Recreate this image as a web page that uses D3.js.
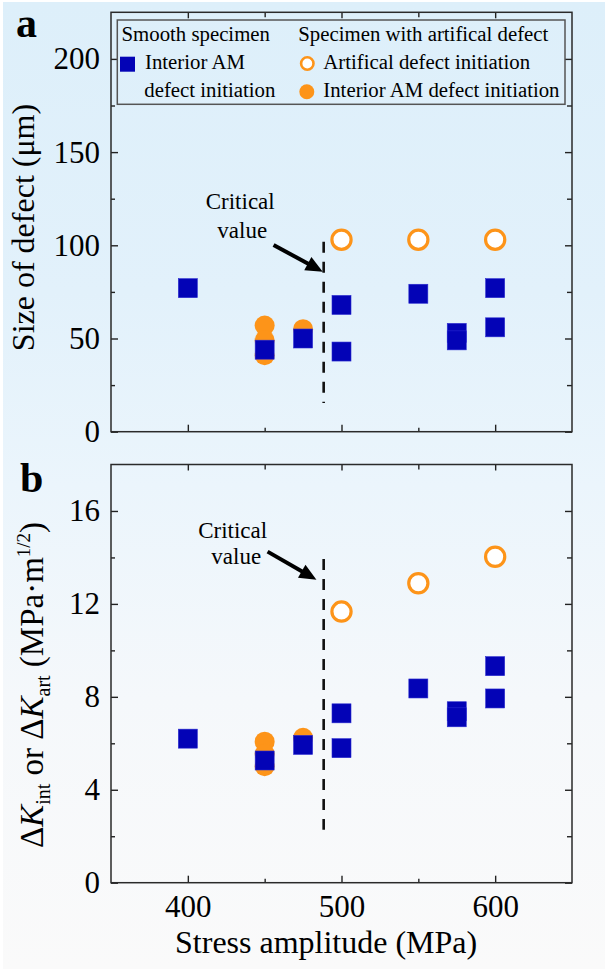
<!DOCTYPE html>
<html>
<head>
<meta charset="utf-8">
<script src="https://cdn.jsdelivr.net/npm/d3@7/dist/d3.min.js"></script>
<style>
  html, body { margin: 0; padding: 0; background: #ffffff; }
  svg { display: block; }
</style>
</head>
<body>
<svg id="chart" width="605" height="969"></svg>
<script>
// ---------------- DATA ----------------
const stressSmooth = [400, 450, 475, 500, 500, 550, 575, 575, 600, 600];
const sizeSmooth   = [77, 44, 50, 68, 43, 74, 53, 49, 77, 56];
const dKSmooth     = [6.2, 5.26, 5.93, 7.29, 5.79, 8.36, 7.38, 7.12, 9.32, 7.93];

const stressArt = [500, 550, 600];
const sizeArt   = [103, 103, 103];
const dKArt     = [11.67, 12.89, 14.03];

const stressAMint = [450, 450, 450, 475];
const sizeAMint   = [57, 49, 41, 55];
const dKAMint     = [6.07, 5.55, 5.01, 6.24];

const xMajor = [400, 500, 600];
const xMinor = [450, 550];
const ySizeMajor = [0, 50, 100, 150, 200];
const ySizeMinor = [25, 75, 125, 175];
const yKMajor = [0, 4, 8, 12, 16];
const yKMinor = [2, 6, 10, 14];

const criticalStress = 488.4;
const critSizeRange = [15.4, 101.9];
const critKRange = [2.28, 13.93];
// annotation anchors in data units: [tailX, tailY, tipX, tipY]
const arrowSize = [455.8, 100.2, 487.8, 85.8];
const arrowK    = [451.9, 14.25, 483.7, 13.04];
const labelSize = [[434.1, 119.5, "Critical"], [435.4, 103.7, "value"]];
const labelK    = [[429.2, 14.84, "Critical"], [431.5, 13.72, "value"]];

const legendLeftTitle = "Smooth specimen";
const legendRightTitle = "Specimen with artifical defect";

// ---------------- SETUP ----------------
const FONT = "Liberation Serif";
const svg = d3.select("#chart");
const W = 605, H = 969;
const BLUE = "#0303b6", ORANGE = "#fd9419";

const defs = svg.append("defs");
const grad = defs.append("linearGradient").attr("id", "bg")
  .attr("x1", 0).attr("y1", 0).attr("x2", 0).attr("y2", 1);
[["0%", "#ddeffa"], ["30%", "#e2f1fb"], ["50%", "#ebf5fc"], ["72%", "#f5f8fb"], ["100%", "#fafafa"]]
  .forEach(([o, c]) => grad.append("stop").attr("offset", o).attr("stop-color", c));
svg.append("rect").attr("x", 3).attr("y", 2).attr("width", W - 3).attr("height", H - 2)
  .attr("fill", "url(#bg)");

const x = d3.scaleLinear().domain([350, 650]).range([111, 572]);
const ySize = d3.scaleLinear().domain([0, 225]).range([431.7, 12.3]);
const yK = d3.scaleLinear().domain([0, 18]).range([882.7, 464.5]);

function panel(y, yMajor, yMinor, showXLabels) {
  const g = svg.append("g");
  const [x0, x1] = x.range();
  const [yb, yt] = y.range();
  const axes = [
    [d3.axisBottom(x).tickValues(xMajor).tickSize(-7), `translate(0,${yb})`, showXLabels, 12],
    [d3.axisBottom(x).tickValues(xMinor).tickSize(-4), `translate(0,${yb})`, false, 0],
    [d3.axisTop(x).tickValues(xMajor).tickSize(-6), `translate(0,${yt})`, false, 0],
    [d3.axisTop(x).tickValues(xMinor).tickSize(-5), `translate(0,${yt})`, false, 0],
    [d3.axisLeft(y).tickValues(yMajor).tickSize(-7), `translate(${x0},0)`, true, 11],
    [d3.axisLeft(y).tickValues(yMinor).tickSize(-4), `translate(${x0},0)`, false, 0],
    [d3.axisRight(y).tickValues(yMajor).tickSize(-7), `translate(${x1},0)`, false, 0],
    [d3.axisRight(y).tickValues(yMinor).tickSize(-5), `translate(${x1},0)`, false, 0],
  ];
  axes.forEach(([ax, tr, labels, pad]) => {
    ax.tickPadding(pad);
    if (!labels) ax.tickFormat("");
    const a = g.append("g").attr("transform", tr).call(ax);
    a.select(".domain").remove();
    a.selectAll(".tick line").attr("stroke", "#222").attr("stroke-width", 1.4);
    a.selectAll(".tick text").attr("font-size", 31).attr("fill", "#000");
  });
  g.append("rect").attr("x", x0).attr("y", yt).attr("width", x1 - x0).attr("height", yb - yt)
    .attr("fill", "none").attr("stroke", "#2a2a2a").attr("stroke-width", 1.5);
  return g;
}

function points(g, y, artY, amY, smY) {
  g.selectAll(".am").data(stressAMint.map((s, i) => [s, amY[i]])).join("circle")
    .attr("cx", d => x(d[0])).attr("cy", d => y(d[1])).attr("r", 10).attr("fill", ORANGE);
  g.selectAll(".art").data(stressArt.map((s, i) => [s, artY[i]])).join("circle")
    .attr("cx", d => x(d[0])).attr("cy", d => y(d[1])).attr("r", 9.6)
    .attr("fill", "#ffffff").attr("stroke", ORANGE).attr("stroke-width", 3.2);
  const s = 19;
  g.selectAll(".sm").data(stressSmooth.map((v, i) => [v, smY[i]])).join("rect")
    .attr("x", d => x(d[0]) - s / 2).attr("y", d => y(d[1]) - s / 2)
    .attr("width", s).attr("height", s).attr("fill", BLUE)
    .attr("stroke", "#2a2ad0").attr("stroke-width", 0.6);
}

function critical(g, y, range, arrow, labels) {
  g.append("line").attr("x1", x(criticalStress)).attr("x2", x(criticalStress))
    .attr("y1", y(range[1])).attr("y2", y(range[0]))
    .attr("stroke", "#111").attr("stroke-width", 2.6).attr("stroke-dasharray", "11,9");
  const tx = x(arrow[0]), ty = y(arrow[1]), hx = x(arrow[2]), hy = y(arrow[3]);
  const ang = Math.atan2(hy - ty, hx - tx);
  const L = 17, Wd = 7.5;
  const bx = hx - L * Math.cos(ang), by = hy - L * Math.sin(ang);
  g.append("line").attr("x1", tx).attr("y1", ty).attr("x2", bx + 2 * Math.cos(ang)).attr("y2", by + 2 * Math.sin(ang))
    .attr("stroke", "#000").attr("stroke-width", 4);
  const p = [[hx, hy],
    [bx + Wd * Math.sin(ang), by - Wd * Math.cos(ang)],
    [bx - Wd * Math.sin(ang), by + Wd * Math.cos(ang)]];
  g.append("polygon").attr("points", p.map(q => q.join(",")).join(" ")).attr("fill", "#000");
  labels.forEach(([lx, ly, t]) => {
    g.append("text").attr("x", x(lx)).attr("y", y(ly)).attr("text-anchor", "middle")
      .attr("font-size", 23).text(t);
  });
}

// ---------------- PANEL A ----------------
const gA = panel(ySize, ySizeMajor, ySizeMinor, false);
critical(gA, ySize, critSizeRange, arrowSize, labelSize);
points(gA, ySize, sizeArt, sizeAMint, sizeSmooth);

// ---------------- PANEL B ----------------
const gB = panel(yK, yKMajor, yKMinor, true);
critical(gB, yK, critKRange, arrowK, labelK);
points(gB, yK, dKArt, dKAMint, dKSmooth);

// ---------------- LEGEND ----------------
const lg = svg.append("g");
lg.append("rect").attr("x", 117.3).attr("y", 20).attr("width", 447.7).attr("height", 84.3)
  .attr("fill", "none").attr("stroke", "#555").attr("stroke-width", 1.5);
const LF = 20.8;
lg.append("text").attr("x", 121.5).attr("y", 40.5).attr("font-size", LF).text(legendLeftTitle);
lg.append("text").attr("x", 298.3).attr("y", 40.5).attr("font-size", LF).text(legendRightTitle);
lg.append("rect").attr("x", 120).attr("y", 56.7).attr("width", 15).attr("height", 15).attr("fill", BLUE);
lg.append("text").attr("x", 145).attr("y", 69.3).attr("font-size", LF).text("Interior AM");
lg.append("text").attr("x", 144.3).attr("y", 97.3).attr("font-size", LF).text("defect initiation");
lg.append("circle").attr("cx", 307.3).attr("cy", 63.5).attr("r", 6.2)
  .attr("fill", "#fff").attr("stroke", ORANGE).attr("stroke-width", 2.6);
lg.append("text").attr("x", 323.3).attr("y", 69.3).attr("font-size", LF).text("Artifical defect initiation");
lg.append("circle").attr("cx", 306.8).attr("cy", 91.7).attr("r", 7.5).attr("fill", ORANGE);
lg.append("text").attr("x", 323.3).attr("y", 97.3).attr("font-size", LF).text("Interior AM defect initiation");

// ---------------- TITLES ----------------
svg.append("text").attr("x", 16).attr("y", 37).attr("font-size", 42).attr("font-weight", "bold").text("a");
svg.append("text").attr("x", 20).attr("y", 492).attr("font-size", 42).attr("font-weight", "bold").text("b");

svg.append("text").attr("transform", "translate(34,227.5) rotate(-90)")
  .attr("text-anchor", "middle").attr("font-size", 32).text("Size of defect (μm)");

const tB = svg.append("text").attr("transform", "translate(43,685) rotate(-90)")
  .attr("text-anchor", "middle").attr("font-size", 33);
tB.append("tspan").text("Δ");
tB.append("tspan").attr("font-style", "italic").text("K");
tB.append("tspan").attr("font-size", 20).attr("dy", 7).text("int");
tB.append("tspan").attr("dy", -7).text(" or Δ");
tB.append("tspan").attr("font-style", "italic").text("K");
tB.append("tspan").attr("font-size", 20).attr("dy", 7).text("art");
tB.append("tspan").attr("dy", -7).text(" (MPa·m");
tB.append("tspan").attr("font-size", 19).attr("dy", -13).text("1/2");
tB.append("tspan").attr("dy", 13).text(")");

svg.append("text").attr("x", x(490)).attr("y", 952.7).attr("text-anchor", "middle")
  .attr("font-size", 32).text("Stress amplitude (MPa)");

// force the serif family on every text element
svg.selectAll("text").style("font-family", FONT).style("fill", "#000");
</script>
</body>
</html>
